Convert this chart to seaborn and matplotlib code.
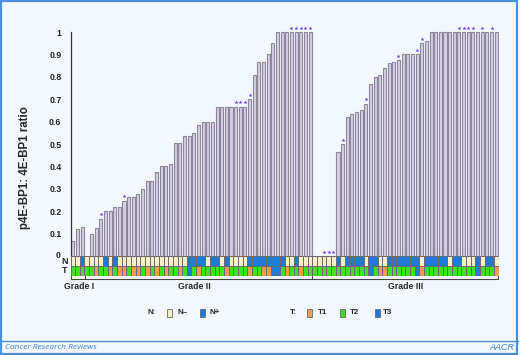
import matplotlib
matplotlib.use("Agg")
import matplotlib.pyplot as plt
import matplotlib.transforms as mtransforms
from matplotlib.colors import ListedColormap
from matplotlib.patches import Rectangle
from matplotlib.lines import Line2D
import numpy as np
import pandas as pd
import seaborn as sns

# ratio per tumour, ordered by grade then by value
grade1_ratio = [0.068, 0.12, 0.13]
grade2_ratio = [0.0, 0.10, 0.125, 0.167, 0.20, 0.20, 0.219, 0.219, 0.247, 0.265,
                0.265, 0.276, 0.30, 0.336, 0.336, 0.375, 0.40, 0.40, 0.412, 0.503,
                0.503, 0.536, 0.536, 0.548, 0.585, 0.60, 0.60, 0.60, 0.667, 0.667,
                0.667, 0.667, 0.667, 0.667, 0.667, 0.70, 0.81, 0.866, 0.866, 0.90,
                0.95, 1.0, 1.0, 1.0, 1.0, 1.0, 1.0, 1.0, 1.0]
grade3_ratio = [0.0, 0.0, 0.0, 0.0, 0.0, 0.466, 0.50, 0.62, 0.635, 0.643,
                0.653, 0.68, 0.768, 0.80, 0.807, 0.838, 0.863, 0.867, 0.875, 0.90,
                0.90, 0.90, 0.90, 0.95, 0.96, 1.0, 1.0, 1.0, 1.0, 1.0,
                1.0, 1.0, 1.0, 1.0, 1.0, 1.0, 1.0, 1.0, 1.0, 1.0]
grade_names = ["Grade I", "Grade II", "Grade III"]

# tumours marked with an asterisk
starred = [6, 11, 35, 36, 37, 38, 47, 48, 49, 50, 51,
           54, 55, 56, 58, 63, 70, 74, 75, 83, 84, 85, 86, 88, 90]

# node status: 0 = N-, 1 = N+
n_status = [0, 0, 1, 0, 0, 0, 0, 1, 0, 1, 0, 0, 0, 0, 0, 0, 0, 0, 0, 0,
            0, 0, 0, 0, 0, 1, 1, 1, 1, 0, 1, 1, 0, 1, 0, 0, 0, 0, 1, 1,
            1, 1, 1, 1, 1, 1, 0, 0, 1, 0, 0, 0, 0, 0, 0, 0, 0, 1, 0, 1,
            1, 1, 1, 0, 1, 1, 0, 0, 1, 1, 1, 1, 1, 1, 1, 0, 1, 1, 1, 1,
            1, 0, 1, 1, 0, 0, 0, 1, 0, 1, 1, 0]
# tumour size: 1 = T1, 2 = T2, 3 = T3
t_status = [2, 2, 2, 2, 2, 1, 2, 2, 1, 2, 1, 1, 2, 1, 1, 2, 1, 2, 1, 2,
            1, 2, 2, 1, 2, 3, 2, 1, 2, 2, 2, 2, 2, 1, 2, 2, 2, 2, 1, 2,
            2, 1, 1, 3, 3, 2, 1, 2, 2, 1, 2, 2, 2, 2, 2, 2, 2, 2, 2, 2,
            2, 2, 2, 2, 3, 2, 1, 1, 2, 2, 2, 2, 2, 2, 3, 1, 2, 2, 2, 2,
            2, 2, 2, 2, 2, 2, 2, 3, 2, 2, 2, 1]

ratio = grade1_ratio + grade2_ratio + grade3_ratio
n_pat = len(ratio)
grade_sizes = [len(grade1_ratio), len(grade2_ratio), len(grade3_ratio)]

W, H = 520, 355
BG = "#f2f8fd"
FRAME = "#4a90dc"
CREAM = "#f7efc6"
BLUE = "#1f7ad6"
ORANGE = "#f29a4e"
GREEN = "#3fe01e"
STAR = "#6b3be0"

sns.set_style("white")
plt.rcParams["font.family"] = ["Liberation Sans", "DejaVu Sans"]


def fx(px):
    return px / W


def fy(py):
    return 1 - py / H


fig = plt.figure(figsize=(W / 100, H / 100), dpi=100)
fig.patch.set_facecolor("white")
fig.patches.append(Rectangle((fx(1), fy(353.5)), fx(517) - fx(1), fy(1) - fy(353.5),
                             transform=fig.transFigure, facecolor=BG,
                             edgecolor=FRAME, linewidth=1.6, zorder=-5))
fig.lines.append(Line2D([fx(1), fx(518)], [fy(340.5), fy(340.5)],
                        transform=fig.transFigure, color=FRAME, linewidth=1.0))

# bars
left, right, zero_px, top_px = 70.5, 498.5, 256, 10
ax = fig.add_axes([fx(left), fy(zero_px), fx(right) - fx(left), fy(top_px) - fy(zero_px)])
ax.set_facecolor("none")
df = pd.DataFrame({"pos": np.arange(n_pat), "ratio": ratio})
sns.barplot(data=df, x="pos", y="ratio", ax=ax, color="#d8cdea", saturation=1,
            edgecolor="#8b8795", linewidth=0.8, width=0.66)
ax.set_xlim(-0.5, n_pat - 0.5)
ax.set_ylim(0, (zero_px - top_px) / 224)
ax.set_xticks([])
ax.set_xlabel("")
ax.set_ylabel("")
yt = np.round(np.arange(0, 1.01, 0.1), 1)
ax.set_yticks(yt)
ax.set_yticklabels(["0"] + [f"{v:g}" for v in yt[1:-1]] + ["1"],
                   fontsize=6.3, fontweight="bold")
ax.tick_params(axis="y", length=3.5, width=0.8, pad=3, colors="#222222")
# lift the "0" a little so it clears the N label
zero_lab = ax.get_yticklabels()[0]
zero_lab.set_transform(zero_lab.get_transform() +
                       mtransforms.ScaledTranslation(-1 / 100, 2 / 100, fig.dpi_scale_trans))
for s in ["top", "right", "bottom"]:
    ax.spines[s].set_visible(False)
ax.spines["left"].set_bounds(0, 1)
ax.spines["left"].set_color("#333333")
ax.spines["left"].set_linewidth(0.9)

star_df = df.loc[starred]
ax.scatter(star_df["pos"], star_df["ratio"] + 0.019, marker="*", s=9,
           color=STAR, linewidths=0, zorder=5, clip_on=False)

fig.text(fx(25), fy(168), "p4E-BP1: 4E-BP1 ratio", rotation=90, ha="center",
         va="center", fontsize=8.3, fontweight="bold")

# N / T annotation rows
hax = fig.add_axes([fx(left), fy(276), fx(right) - fx(left), fy(256) - fy(276)])
codes = np.array([n_status, [t + 1 for t in t_status]])
cmap = ListedColormap([CREAM, BLUE, ORANGE, GREEN, BLUE])
sns.heatmap(codes, ax=hax, cmap=cmap, vmin=-0.5, vmax=4.5, cbar=False,
            linewidths=0.5, linecolor="#6b6b6b", xticklabels=False,
            yticklabels=False)
fig.text(fx(65), fy(261.5), "N", ha="center", va="center", fontsize=6.5,
         fontweight="bold")
fig.text(fx(65), fy(270.5), "T", ha="center", va="center", fontsize=6.5,
         fontweight="bold")

# grade brackets
x0 = 71
cell = (498 - 71) / n_pat
edges = np.cumsum([0] + grade_sizes)
fig.lines.append(Line2D([fx(x0), fx(498)], [fy(279), fy(279)],
                        transform=fig.transFigure, color="#444444", linewidth=0.8))
for e in edges:
    xp = x0 + e * cell
    fig.lines.append(Line2D([fx(xp), fx(xp)], [fy(279), fy(275.5)],
                            transform=fig.transFigure, color="#444444", linewidth=0.8))
grade_label_x = [79, 194, 406]
for name, xp in zip(grade_names, grade_label_x):
    fig.text(fx(xp), fy(286.5), name, ha="center", va="center", fontsize=6.3,
             fontweight="bold")

# legend
def legend_box(xp, color):
    fig.patches.append(Rectangle((fx(xp), fy(316.5)), 5 / W, 8 / H,
                                 transform=fig.transFigure, facecolor=color,
                                 edgecolor="#666666", linewidth=0.6))

legend_labels = ["N:", "N–", "N+", "T:", "T1", "T2", "T3"]
legend_x = [148, 177, 210, 290, 318, 350, 383]
for lab, xp in zip(legend_labels, legend_x):
    fig.text(fx(xp), fy(312.5), lab, ha="left", va="center", fontsize=5.8,
             fontweight="bold")
for xp, c in zip([167, 200, 307, 340, 375], [CREAM, BLUE, ORANGE, GREEN, BLUE]):
    legend_box(xp, c)

# footer
fig.text(fx(5), fy(347.5), "Cancer Research Reviews", ha="left", va="center",
         fontsize=6, style="italic", color="#3d7fd6", family="Open Sans")
fig.text(fx(514), fy(347.5), "AACR", ha="right", va="center", fontsize=6.5,
         style="italic", color="#3d7fd6")

fig.savefig("out.png", dpi=100)
